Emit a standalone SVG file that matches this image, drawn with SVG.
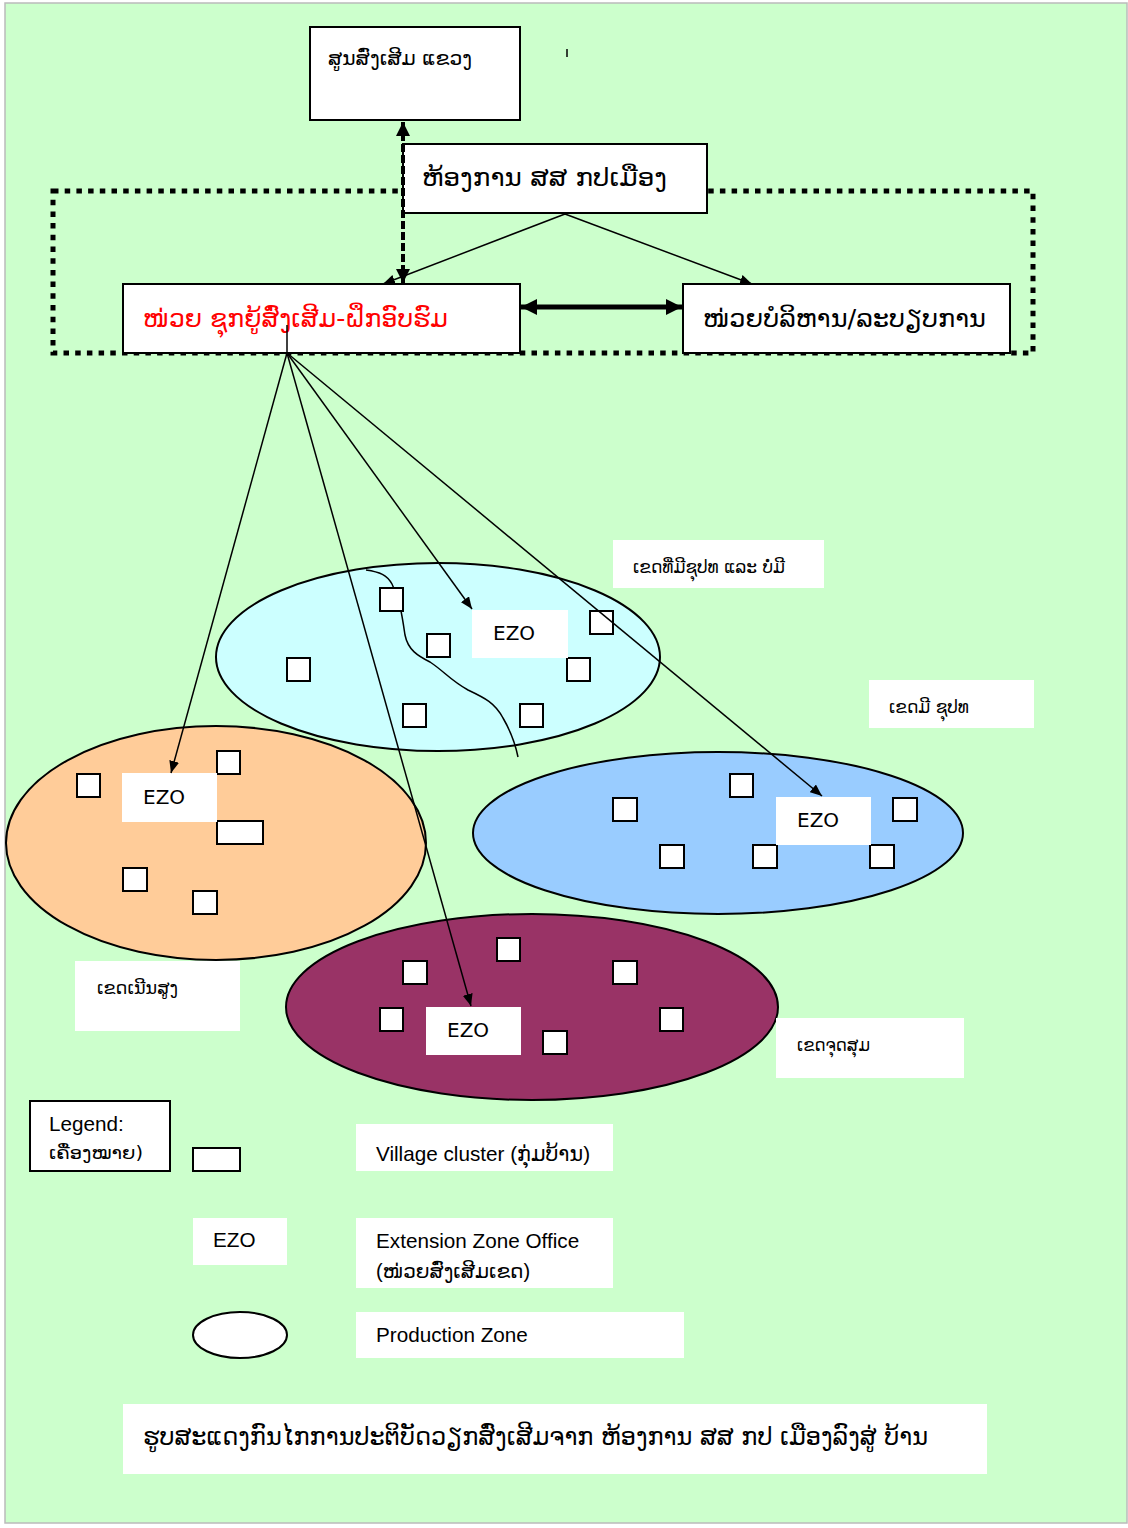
<svg xmlns="http://www.w3.org/2000/svg" width="1128" height="1528" viewBox="0 0 1128 1528">
<style>
.box{fill:#fff;stroke:#000;stroke-width:2}
.lbl{fill:#fff;stroke:none}
.sq{fill:#fff;stroke:#000;stroke-width:2}
.t{font-family:"Liberation Sans","DejaVu Sans",sans-serif;fill:#000}
.lao{font-family:"DejaVu Sans","Liberation Sans",sans-serif;fill:#000}
.ezo{font-family:"DejaVu Sans",sans-serif;font-size:20px;fill:#000}
.fan{stroke:#000;stroke-width:1.5;fill:none}
.ell{stroke:#000;stroke-width:2}
</style>
<defs>
<marker id="ah" viewBox="0 0 12 10" refX="12" refY="5" markerWidth="12" markerHeight="10" markerUnits="userSpaceOnUse" orient="auto"><path d="M0,0 L12,5 L0,10 Z" fill="#000"/></marker>
<marker id="ahb" viewBox="0 0 16 16" refX="16" refY="8" markerWidth="16" markerHeight="16" markerUnits="userSpaceOnUse" orient="auto-start-reverse"><path d="M0,0 L16,8 L0,16 Z" fill="#000"/></marker>
<marker id="ahd" viewBox="0 0 14 14" refX="14" refY="7" markerWidth="14" markerHeight="14" markerUnits="userSpaceOnUse" orient="auto-start-reverse"><path d="M0,0 L14,7 L0,14 Z" fill="#000"/></marker>
<clipPath id="cv"><rect x="356" y="1124" width="257" height="47"/></clipPath>
<clipPath id="ce"><rect x="356" y="1218" width="257" height="70"/></clipPath>
</defs>
<rect x="0" y="0" width="1128" height="1528" fill="#fff"/>
<rect x="5" y="3" width="1122" height="1520" fill="#CCFFCC" stroke="#bbbbbb" stroke-width="1.5"/>

<g id="group-frame">
<rect x="53" y="191" width="980" height="162" fill="none" stroke="#000" stroke-width="5" stroke-dasharray="5.5,6.2"/>
</g>

<g id="node-province">
<rect class="box" x="310" y="27" width="210" height="93"/>
<text class="lao" x="328" y="65" font-size="20" textLength="144" lengthAdjust="spacingAndGlyphs">ສູນສົ່ງເສີມ ແຂວງ</text>
</g>
<line x1="567" y1="49" x2="567" y2="57" stroke="#000" stroke-width="1.5"/>

<g id="node-district">
<rect class="box" x="403" y="144" width="304" height="69"/>
<text class="lao" x="422" y="186" font-size="24" textLength="245" lengthAdjust="spacingAndGlyphs">ຫ້ອງການ ສສ ກປເມືອງ</text>
</g>

<g id="node-support">
<rect class="box" x="123" y="284" width="397" height="69"/>
<text class="lao" x="143" y="327" font-size="24" style="fill:#ff0000" textLength="305" lengthAdjust="spacingAndGlyphs">ໜ່ວຍ ຊຸກຍູ້ສົ່ງເສີມ-ຝຶກອົບຮົມ</text>
</g>

<g id="node-admin">
<rect class="box" x="683" y="284" width="327" height="69"/>
<text class="lao" x="703" y="327" font-size="24" textLength="283" lengthAdjust="spacingAndGlyphs">ໜ່ວຍບໍລິຫານ/ລະບຽບການ</text>
</g>

<g id="zone-cyan">
<ellipse class="ell" cx="438" cy="657" rx="222" ry="94" fill="#CCFFFF"/>
<path d="M366,570 C380,572 387,575 392,584 C400,600 402,615 405,635 C408,650 418,656 430,662 C445,672 450,680 468,690 C485,698 495,703 503,718 C510,730 515,742 518,757" fill="none" stroke="#000" stroke-width="1.5"/>
<rect class="sq" x="380" y="588" width="23" height="23"/>
<rect class="sq" x="427" y="634" width="23" height="23"/>
<rect class="sq" x="287" y="658" width="23" height="23"/>
<rect class="sq" x="590" y="611" width="23" height="23"/>
<rect class="sq" x="567" y="658" width="23" height="23"/>
<rect class="sq" x="403" y="704" width="23" height="23"/>
<rect class="sq" x="520" y="704" width="23" height="23"/>
<rect class="lbl" x="472" y="610" width="96" height="48"/>
<text class="ezo" x="493" y="640">EZO</text>
</g>

<g id="zone-orange">
<ellipse class="ell" cx="216" cy="843" rx="210" ry="117" fill="#FFCC99"/>
<rect class="sq" x="77" y="774" width="23" height="23"/>
<rect class="sq" x="217" y="751" width="23" height="23"/>
<rect class="sq" x="217" y="821" width="46" height="23"/>
<rect class="sq" x="123" y="868" width="24" height="23"/>
<rect class="sq" x="193" y="891" width="24" height="23"/>
<rect class="lbl" x="122" y="773" width="95" height="49"/>
<text class="ezo" x="143" y="804">EZO</text>
</g>

<g id="zone-blue">
<ellipse class="ell" cx="718" cy="833" rx="245" ry="81" fill="#99CCFF"/>
<rect class="sq" x="613" y="798" width="24" height="23"/>
<rect class="sq" x="730" y="774" width="23" height="23"/>
<rect class="sq" x="893" y="798" width="24" height="23"/>
<rect class="sq" x="660" y="845" width="24" height="23"/>
<rect class="sq" x="753" y="845" width="24" height="23"/>
<rect class="sq" x="870" y="845" width="24" height="23"/>
<rect class="lbl" x="776" y="797" width="95" height="48"/>
<text class="ezo" x="797" y="827">EZO</text>
</g>

<g id="zone-maroon">
<ellipse class="ell" cx="532" cy="1007" rx="246" ry="93" fill="#993366"/>
<rect class="sq" x="497" y="938" width="23" height="23"/>
<rect class="sq" x="403" y="961" width="24" height="23"/>
<rect class="sq" x="613" y="961" width="24" height="23"/>
<rect class="sq" x="380" y="1008" width="23" height="23"/>
<rect class="sq" x="660" y="1008" width="23" height="23"/>
<rect class="sq" x="543" y="1031" width="24" height="23"/>
<rect class="lbl" x="426" y="1007" width="95" height="48"/>
<text class="ezo" x="447" y="1037">EZO</text>
</g>

<g id="label-cyan">
<rect class="lbl" x="613" y="540" width="211" height="48"/>
<text class="lao" x="633" y="573" font-size="17" textLength="152" lengthAdjust="spacingAndGlyphs">ເຂດທີ່ມີຊຸປທ ແລະ ບໍ່ມີ</text>
</g>
<g id="label-blue">
<rect class="lbl" x="869" y="680" width="165" height="48"/>
<text class="lao" x="889" y="713" font-size="17" textLength="80" lengthAdjust="spacingAndGlyphs">ເຂດມີ ຊຸປທ</text>
</g>
<g id="label-orange">
<rect class="lbl" x="75" y="961" width="165" height="70"/>
<text class="lao" x="97" y="994" font-size="17" textLength="81" lengthAdjust="spacingAndGlyphs">ເຂດເນີນສູງ</text>
</g>
<g id="label-maroon">
<rect class="lbl" x="776" y="1018" width="188" height="60"/>
<text class="lao" x="797" y="1051" font-size="17" textLength="73" lengthAdjust="spacingAndGlyphs">ເຂດຈຸດສຸມ</text>
</g>

<g id="connectors">
<line x1="403" y1="122" x2="403" y2="283" stroke="#000" stroke-width="4" stroke-dasharray="8,3" marker-start="url(#ahd)" marker-end="url(#ahd)"/>
<line x1="565" y1="214" x2="383" y2="284" stroke="#000" stroke-width="1.5" marker-end="url(#ah)"/>
<line x1="565" y1="214" x2="752" y2="284" stroke="#000" stroke-width="1.5" marker-end="url(#ah)"/>
<line x1="521" y1="307" x2="682" y2="307" stroke="#000" stroke-width="5" marker-start="url(#ahb)" marker-end="url(#ahb)"/>
<line x1="287" y1="325" x2="287" y2="353" class="fan"/>
<line x1="287" y1="353" x2="171" y2="773" class="fan" marker-end="url(#ah)"/>
<line x1="287" y1="353" x2="471" y2="1006" class="fan" marker-end="url(#ah)"/>
<line x1="287" y1="353" x2="472" y2="609" class="fan" marker-end="url(#ah)"/>
<line x1="287" y1="353" x2="822" y2="796" class="fan" marker-end="url(#ah)"/>
</g>

<g id="legend">
<rect class="box" x="30" y="1101" width="140" height="70"/>
<text class="t" x="49" y="1131" font-size="20.7">Legend:</text>
<text class="lao" x="49" y="1159" font-size="18" textLength="94" lengthAdjust="spacingAndGlyphs">ເຄື່ອງໝາຍ)</text>
<rect class="sq" x="193" y="1148" width="47" height="23"/>
<rect class="lbl" x="356" y="1124" width="257" height="47"/>
<text class="t" x="376" y="1161" font-size="20.7" clip-path="url(#cv)">Village cluster (ກຸ່ມບ້ານ)</text>
<rect class="lbl" x="193" y="1218" width="94" height="47"/>
<text class="t" x="213" y="1247" font-size="20.7">EZO</text>
<rect class="lbl" x="356" y="1218" width="257" height="70"/>
<text class="t" x="376" y="1248" font-size="20.7">Extension Zone Office</text>
<text class="t" x="376" y="1278" font-size="20" clip-path="url(#ce)">(ໜ່ວຍສົ່ງເສີມເຂດ)</text>
<ellipse cx="240" cy="1335" rx="47" ry="23" fill="#fff" stroke="#000" stroke-width="2"/>
<rect class="lbl" x="356" y="1312" width="328" height="46"/>
<text class="t" x="376" y="1342" font-size="20.7">Production Zone</text>
</g>

<g id="caption">
<rect class="lbl" x="123" y="1404" width="864" height="70"/>
<text class="lao" x="143" y="1445" font-size="24" textLength="785" lengthAdjust="spacingAndGlyphs">ຮູບສະແດງກົນໄກການປະຕິບັດວຽກສົ່ງເສີມຈາກ ຫ້ອງການ ສສ ກປ ເມືອງລົງສູ່ ບ້ານ</text>
</g>
</svg>
